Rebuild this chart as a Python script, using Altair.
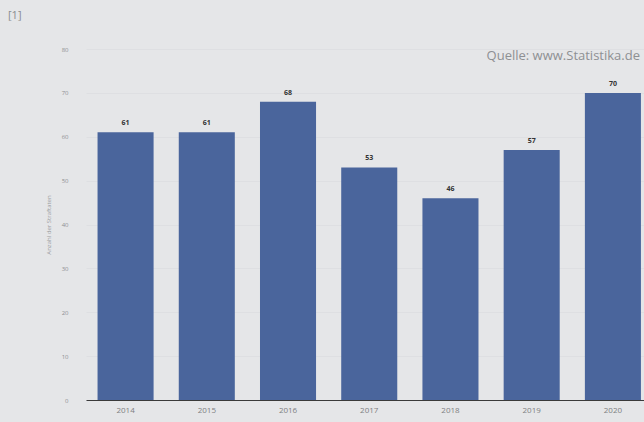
import altair as alt
import pandas as pd

years = ["2014", "2015", "2016", "2017", "2018", "2019", "2020"]
values = [61, 61, 68, 53, 46, 57, 70]
y_ticks = [0, 10, 20, 30, 40, 50, 60, 70, 80]

df = pd.DataFrame({"Jahr": years, "Anzahl": values})

x_scale = alt.Scale(paddingInner=0.31, paddingOuter=0.09, align=0.79)
y_scale = alt.Scale(domain=[0, 80])

base = alt.Chart(df)

bars = base.mark_bar(color="#4a659c").encode(
    x=alt.X("Jahr:N", scale=x_scale, sort=years,
            axis=alt.Axis(title=None, labelAngle=0, labelColor="#7d7f82", labelFont="Open Sans",
                          labelFontSize=8, ticks=False, domainColor="#3a3a3a", domainWidth=1.2,
                          labelPadding=6)),
    y=alt.Y("Anzahl:Q", scale=y_scale,
            axis=alt.Axis(title="Anzahl der Straftaten", values=y_ticks, labelColor="#8d8f92",
                          labelFontSize=6, labelFont="Open Sans", ticks=False, domain=False,
                          grid=True, gridColor="#dcdde0", gridWidth=0.8, labelPadding=18,
                          titleFontSize=6, titleColor="#9a9c9f", titleFontWeight="normal",
                          titleFont="Open Sans", titlePadding=10)),
)

labels = base.mark_text(dy=-9, fontSize=7, fontWeight="bold", color="#333333", font="Open Sans").encode(
    x=alt.X("Jahr:N", scale=x_scale, sort=years),
    y=alt.Y("Anzahl:Q", scale=y_scale),
    text="Anzahl:Q",
)

source = alt.Chart(pd.DataFrame({"t": ["Quelle: www.Statistika.de"]})).mark_text(
    align="right", baseline="middle", fontSize=13, color="#8e9093", font="Open Sans"
).encode(x=alt.value(554), y=alt.value(7), text="t:N")

ref = alt.Chart(pd.DataFrame({"t": ["[1]"]})).mark_text(
    align="left", baseline="middle", fontSize=11, color="#8a8c8f", font="Open Sans"
).encode(x=alt.value(-78), y=alt.value(-33), text="t:N")

chart = alt.layer(bars, labels, source, ref).properties(
    width=558, height=351,
    autosize=alt.AutoSizeParams(type="none"),
    padding={"left": 86, "top": 49, "right": 0, "bottom": 22},
    background="#e5e6e8",
).configure_view(stroke=None)

chart.save("out.html", embed_options={"renderer": "svg", "actions": False})
